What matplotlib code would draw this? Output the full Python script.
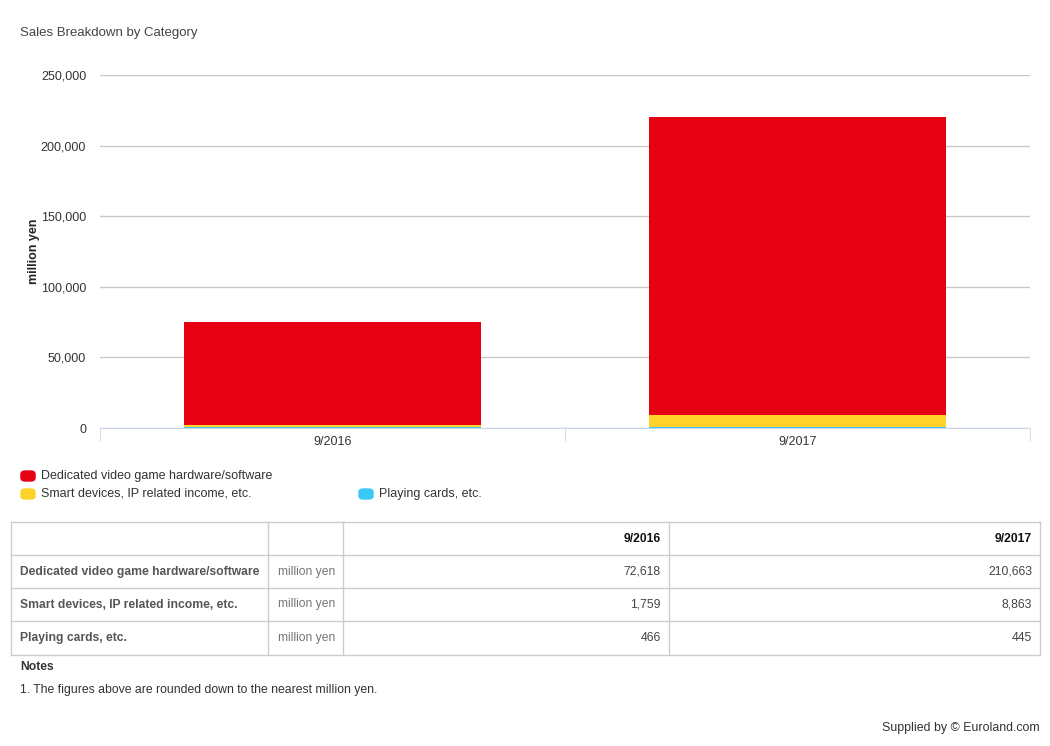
import matplotlib.pyplot as plt
from matplotlib.patches import FancyBboxPatch
from matplotlib.ticker import FuncFormatter

# --- Data ---
periods = ['9/2016', '9/2017']
series_names = ['Dedicated video game hardware/software',
                'Smart devices, IP related income, etc.',
                'Playing cards, etc.']
dedicated = [72618, 210663]
smart = [1759, 8863]
cards = [466, 445]
unit = 'million yen'
colors = ['#e60012', '#fdd22b', '#3cc8f6']

W, H = 1050, 746
plt.rcParams['font.family'] = ['Liberation Sans', 'DejaVu Sans']

fig = plt.figure(figsize=(W / 100, H / 100), dpi=100)


def fx(px):
    return px / W


def fy(py):
    return 1 - py / H


# --- Chart area ---
ax = fig.add_axes([fx(100), fy(428), fx(1030) - fx(100), fy(75) - fy(428)])
x = range(len(periods))
bw = 0.64
ax.bar(x, cards, bw, color=colors[2], zorder=3)
ax.bar(x, smart, bw, bottom=cards, color=colors[1], zorder=3)
base = [c + s for c, s in zip(cards, smart)]
ax.bar(x, dedicated, bw, bottom=base, color=colors[0], zorder=3)

ax.set_xlim(-0.5, 1.5)
ax.set_ylim(0, 250000)
ax.set_yticks(range(0, 250001, 50000))
ax.yaxis.set_major_formatter(FuncFormatter(lambda v, p: f'{int(v):,}'))
ax.grid(axis='y', color='#c8c8c8', lw=1)
ax.set_axisbelow(True)
for s in ['top', 'right', 'left']:
    ax.spines[s].set_visible(False)
ax.spines['bottom'].set_color('#ccd6eb')
ax.tick_params(axis='y', length=0, pad=10, labelsize=9, labelcolor='#333333')
ax.set_xticks(list(x))
ax.set_xticklabels(periods, fontsize=9, color='#333333')
ax.tick_params(axis='x', length=0, pad=6)
# category boundary ticks
ax.set_xticks([-0.5, 0.5, 1.5], minor=True)
ax.tick_params(axis='x', which='minor', length=9, color='#ccd6eb')
ax.set_ylabel(unit, fontsize=9, fontweight='bold', color='#222222')
ax.yaxis.set_label_coords((40 - 100) / 930, 0.5)

fig.text(fx(20), fy(33), 'Sales Breakdown by Category', fontsize=9.5,
         color='#444444', va='center')

# --- Legend ---
leg_pos = [(20, 476), (20, 494), (358, 494)]
for (lx, ly), name, c in zip(leg_pos, series_names, colors):
    fig.patches.append(FancyBboxPatch((fx(lx + 1), fy(ly + 5)), fx(14), fy(0) - fy(10),
                                      boxstyle='round,pad=0,rounding_size=0.004',
                                      transform=fig.transFigure, color=c))
    fig.text(fx(lx + 21), fy(ly), name, fontsize=9, color='#333333', va='center')

# --- Table ---
border = '#cccccc'
rows_y = [522, 555, 588, 621, 655]
cols_x = [11, 268, 343, 669, 1040]
for yy in rows_y:
    fig.add_artist(plt.Line2D([fx(11), fx(1040)], [fy(yy), fy(yy)], color=border, lw=1))
for xx in cols_x:
    fig.add_artist(plt.Line2D([fx(xx), fx(xx)], [fy(522), fy(655)], color=border, lw=1))

for i, p in enumerate(periods):
    fig.text(fx(cols_x[i + 3] - 8), fy(539), p, fontsize=8.7, fontweight='bold',
             color='#111111', ha='right', va='center')

table_vals = [dedicated, smart, cards]
for r, (name, vals) in enumerate(zip(series_names, table_vals)):
    yc = (rows_y[r + 1] + rows_y[r + 2]) / 2
    fig.text(fx(20), fy(yc), name, fontsize=8.7, fontweight='bold', color='#555555', va='center')
    fig.text(fx(335), fy(yc), unit, fontsize=8.7, color='#777777', ha='right', va='center')
    for i, v in enumerate(vals):
        fig.text(fx(cols_x[i + 3] - 8), fy(yc), f'{v:,}', fontsize=8.7, color='#444444',
                 ha='right', va='center')

fig.text(fx(20), fy(667), 'Notes', fontsize=8.7, fontweight='bold', color='#333333', va='center')
fig.text(fx(20), fy(690), '1. The figures above are rounded down to the nearest million yen.',
         fontsize=8.8, color='#333333', va='center')
fig.text(fx(1040), fy(728), 'Supplied by \u00a9 Euroland.com', fontsize=8.9, color='#333333',
         ha='right', va='center')

fig.savefig('out.png', dpi=100)
